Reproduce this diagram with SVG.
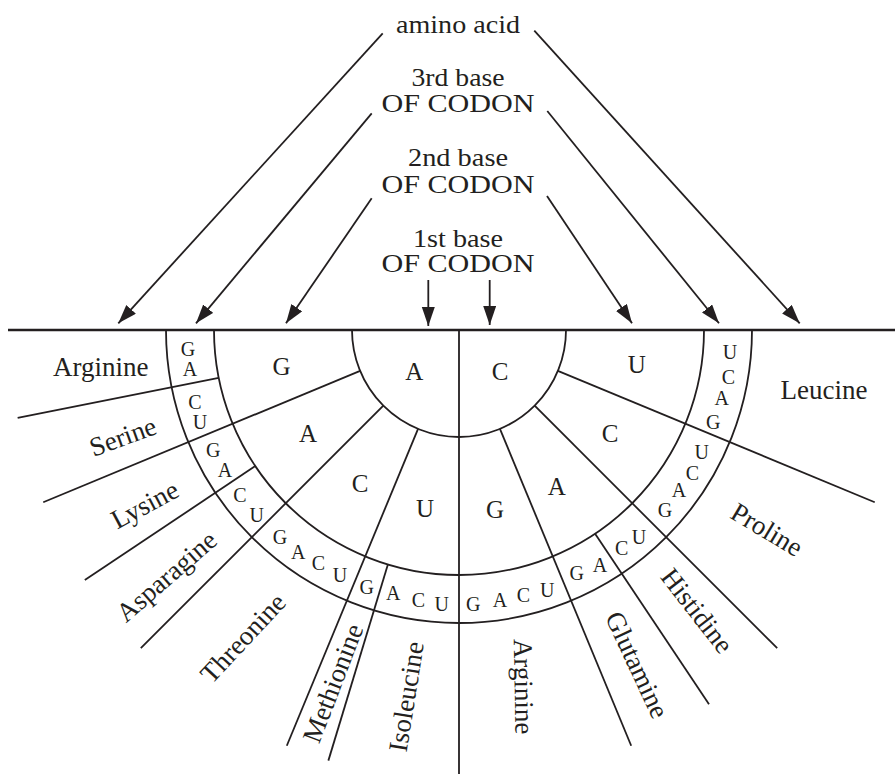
<svg xmlns="http://www.w3.org/2000/svg" width="895" height="774" viewBox="0 0 895 774" font-family="'Liberation Serif', 'DejaVu Serif', serif">
<style>
text{font-family:'Liberation Serif','DejaVu Serif',serif;fill:#231f20}
.h{font-size:25px;text-anchor:middle}
.lab{font-size:27px;text-anchor:middle}
.big{font-size:25px;text-anchor:middle}
.sm{font-size:20px;text-anchor:middle}
.ln{stroke:#231f20;stroke-width:1.8;fill:none}
.arr{stroke:#231f20;stroke-width:1.8;fill:none;marker-end:url(#ah)}
</style>
<defs>
<marker id="ah" markerUnits="userSpaceOnUse" markerWidth="20" markerHeight="14" refX="19" refY="6.5" orient="auto">
<path d="M0,0 L19,6.5 L0,13 Z" fill="#231f20"/>
</marker>
</defs>
<rect width="895" height="774" fill="#fff"/>

<g id="headings">
<g id="amino-acid"><text class="h" x="458" y="33" textLength="124" lengthAdjust="spacingAndGlyphs">amino acid</text></g>
<g id="third-base"><text class="h" x="458" y="86" textLength="93" lengthAdjust="spacingAndGlyphs">3rd base</text><text class="h" x="458" y="112" textLength="153" lengthAdjust="spacingAndGlyphs">OF CODON</text></g>
<g id="second-base"><text class="h" x="458" y="166" textLength="100" lengthAdjust="spacingAndGlyphs">2nd base</text><text class="h" x="458" y="193" textLength="153" lengthAdjust="spacingAndGlyphs">OF CODON</text></g>
<g id="first-base"><text class="h" x="458" y="247" textLength="90" lengthAdjust="spacingAndGlyphs">1st base</text><text class="h" x="458" y="272" textLength="153" lengthAdjust="spacingAndGlyphs">OF CODON</text></g>
</g>

<g id="connectors">
<line class="arr" x1="382.7" y1="33.3" x2="118.3" y2="323.3"/>
<line class="arr" x1="534.3" y1="30.7" x2="799.7" y2="323.3"/>
<line class="arr" x1="371.7" y1="113.3" x2="196" y2="323.3"/>
<line class="arr" x1="547.3" y1="111" x2="719" y2="323.3"/>
<line class="arr" x1="371.7" y1="198.3" x2="286" y2="323.3"/>
<line class="arr" x1="547" y1="196" x2="632" y2="323.3"/>
<line class="arr" x1="428.3" y1="280" x2="428.3" y2="326"/>
<line class="arr" x1="489.7" y1="280" x2="489.7" y2="325"/>
</g>

<g id="wheel">
<line x1="8" y1="330" x2="895" y2="330" stroke="#231f20" stroke-width="2.6"/>
<line class="ln" x1="459" y1="330" x2="459" y2="774" stroke-width="2"/>
<path class="ln" d="M352,330 A107,107 0 0 0 566,330"/>
<path class="ln" d="M214,330 A245,245 0 0 0 704,330"/>
<path class="ln" d="M166,330 A293,293 0 0 0 752,330"/>
<line class="ln" x1="218.71" y1="377.80" x2="17.64" y2="417.79"/>
<line class="ln" x1="360.14" y1="370.95" x2="43.25" y2="502.21"/>
<line class="ln" x1="255.29" y1="466.11" x2="84.84" y2="580.01"/>
<line class="ln" x1="383.34" y1="405.66" x2="140.80" y2="648.20"/>
<line class="ln" x1="418.05" y1="428.86" x2="286.79" y2="745.75"/>
<line class="ln" x1="387.88" y1="564.45" x2="328.37" y2="760.62"/>
<line class="ln" x1="557.86" y1="370.95" x2="874.75" y2="502.21"/>
<line class="ln" x1="534.66" y1="405.66" x2="777.20" y2="648.20"/>
<line class="ln" x1="595.11" y1="533.71" x2="709.01" y2="704.16"/>
<line class="ln" x1="499.95" y1="428.86" x2="631.21" y2="745.75"/>
</g>

<g id="first-base-letters">
<text class="big" x="414.3" y="380">A</text>
<text class="big" x="500" y="380">C</text>
</g>

<g id="second-base-letters">
<text class="big" x="281.5" y="375">G</text>
<text class="big" x="308" y="441.5">A</text>
<text class="big" x="360" y="491.5">C</text>
<text class="big" x="425" y="516.5">U</text>
<text class="big" x="495" y="518.3">G</text>
<text class="big" x="556.7" y="495">A</text>
<text class="big" x="610" y="441.5">C</text>
<text class="big" x="636.7" y="373.3">U</text>
</g>

<g id="third-base-letters">
<text class="sm" x="188" y="356">G</text>
<text class="sm" x="190" y="376">A</text>
<text class="sm" x="195" y="408.7">C</text>
<text class="sm" x="200" y="428.7">U</text>
<text class="sm" x="213.3" y="457">G</text>
<text class="sm" x="225" y="477">A</text>
<text class="sm" x="240" y="502">C</text>
<text class="sm" x="256.7" y="522">U</text>
<text class="sm" x="280" y="543.7">G</text>
<text class="sm" x="298.3" y="558.7">A</text>
<text class="sm" x="318.3" y="570.3">C</text>
<text class="sm" x="340" y="582">U</text>
<text class="sm" x="366.7" y="593.7">G</text>
<text class="sm" x="393.3" y="600.3">A</text>
<text class="sm" x="418.3" y="607">C</text>
<text class="sm" x="441.7" y="611">U</text>
<text class="sm" x="473.3" y="611">G</text>
<text class="sm" x="500" y="607">A</text>
<text class="sm" x="523.3" y="602">C</text>
<text class="sm" x="547.3" y="597">U</text>
<text class="sm" x="576.7" y="580.3">G</text>
<text class="sm" x="600" y="572">A</text>
<text class="sm" x="621.7" y="555.3">C</text>
<text class="sm" x="639" y="543.7">U</text>
<text class="sm" x="665" y="517">G</text>
<text class="sm" x="679" y="497">A</text>
<text class="sm" x="692.3" y="480.3">C</text>
<text class="sm" x="701.7" y="458.7">U</text>
<text class="sm" x="713.3" y="428.7">G</text>
<text class="sm" x="721.7" y="405.3">A</text>
<text class="sm" x="728.3" y="383.7">C</text>
<text class="sm" x="730" y="358.7">U</text>
</g>

<g id="amino-acids">
<g id="arginine-left"><text class="lab" x="100.8" y="376">Arginine</text></g>
<g id="serine"><text class="lab" transform="translate(123,437) rotate(-20)" dy="0.32em">Serine</text></g>
<g id="lysine"><text class="lab" transform="translate(145,505) rotate(-28)" dy="0.32em">Lysine</text></g>
<g id="asparagine"><text class="lab" transform="translate(166.7,576.7) rotate(-41)" dy="0.32em">Asparagine</text></g>
<g id="threonine"><text class="lab" transform="translate(243.3,638.3) rotate(-47)" dy="0.32em">Threonine</text></g>
<g id="methionine"><text class="lab" transform="translate(333.3,683.3) rotate(-69)" dy="0.32em">Methionine</text></g>
<g id="isoleucine"><text class="lab" transform="translate(406.7,696.7) rotate(-81)" dy="0.32em">Isoleucine</text></g>
<g id="arginine-right"><text class="lab" transform="translate(523.3,686.7) rotate(89)" dy="0.32em">Arginine</text></g>
<g id="glutamine"><text class="lab" transform="translate(636.7,665) rotate(65)" dy="0.32em">Glutamine</text></g>
<g id="histidine"><text class="lab" transform="translate(696.7,611) rotate(52)" dy="0.32em">Histidine</text></g>
<g id="proline"><text class="lab" transform="translate(766.7,530) rotate(31)" dy="0.32em">Proline</text></g>
<g id="leucine"><text class="lab" x="824" y="399">Leucine</text></g>
</g>
</svg>
